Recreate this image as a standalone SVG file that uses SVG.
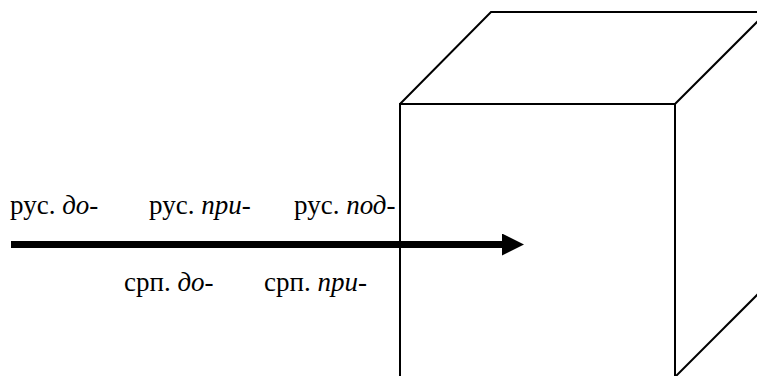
<svg xmlns="http://www.w3.org/2000/svg" width="757" height="376" viewBox="0 0 757 376">
<style>
.edge{fill:none;stroke:#000;stroke-width:2;stroke-linejoin:miter}
.t{font-family:"Liberation Serif","Times New Roman",serif;font-size:27px;fill:#000}
.i{font-style:italic}
</style>
<defs>
<marker id="ah" markerUnits="userSpaceOnUse" markerWidth="22" markerHeight="22" refX="0" refY="11" orient="auto" viewBox="0 0 22 22">
<path d="M0,0 L22,11 L0,22 Z" fill="#000"/>
</marker>
</defs>
<g id="cube">
<path class="edge" d="M400,380 L400,104 L675,104 L675,380"/>
<path class="edge" d="M400,104 L491,12 L760,12"/>
<path class="edge" d="M675,104 L760,19"/>
<path class="edge" d="M675,377 L760,292"/>
</g>
<g id="connectors">
<line x1="11" y1="244.5" x2="502" y2="244.5" stroke="#000" stroke-width="7" marker-end="url(#ah)"/>
</g>
<g id="labels">
<text class="t" x="10" y="214">рус. <tspan class="i">до-</tspan></text>
<text class="t" x="149" y="214">рус. <tspan class="i">при-</tspan></text>
<text class="t" x="294" y="214">рус. <tspan class="i">под-</tspan></text>
<text class="t" x="124" y="291">срп. <tspan class="i">до-</tspan></text>
<text class="t" x="264" y="291">срп. <tspan class="i">при-</tspan></text>
</g>
</svg>
